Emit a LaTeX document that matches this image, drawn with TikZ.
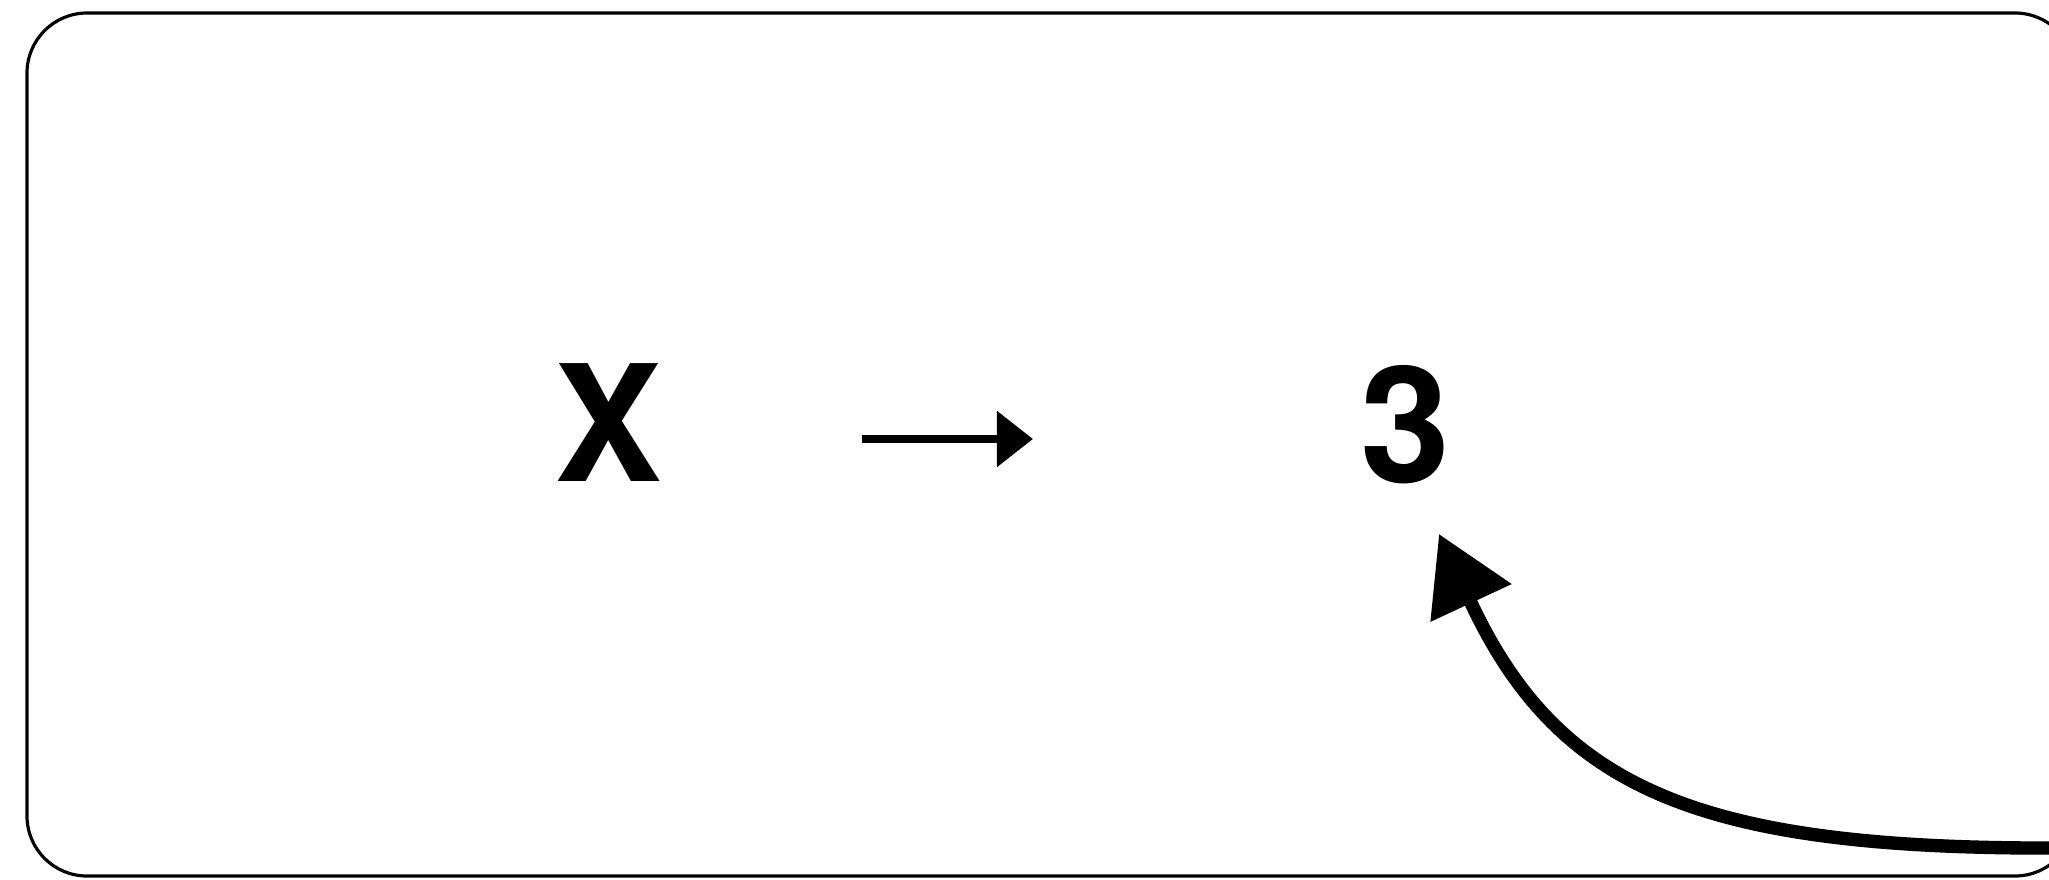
\documentclass[tikz,border=0pt]{standalone}
\usepackage{fontspec}
\setmainfont{TeX Gyre Heros}
\usepackage{tikz}
\usetikzlibrary{positioning, arrows.meta}

\begin{document}
\begin{tikzpicture}[
        x=0.01cm, y=-0.01cm,
        frame/.style={draw=black, line width=0.9pt, rounded corners=6mm},
        glyph/.style={font=\fontsize{46}{50}\selectfont\bfseries, inner sep=0pt},
        arr/.style={-{Triangle[length=3.6mm, width=5.4mm]}, line width=2.4pt},
        loop/.style={-{Triangle[length=7.6mm, width=8.6mm]}, line width=3.8pt}]
        \useasboundingbox (0,0) rectangle (2049,879);
        \draw[frame] (27,13) rectangle (2075,876);
        \node[glyph] (src) at (608,423) {X};
        \node[glyph] (res) at (1405,425) {3};
        % straight arrow between the two glyphs
        \coordinate (a1) at (862,439); \coordinate (a2) at (1033,439);
        \draw[arr] (a1)--(a2);
        % curved arrow coming in from the right
        \coordinate (c0) at (2065,848); \coordinate (c1) at (1439,534);
        \draw[loop] (c0) .. controls (1700,850) and (1558,790) .. (c1);
      \end{tikzpicture}
\end{document}
